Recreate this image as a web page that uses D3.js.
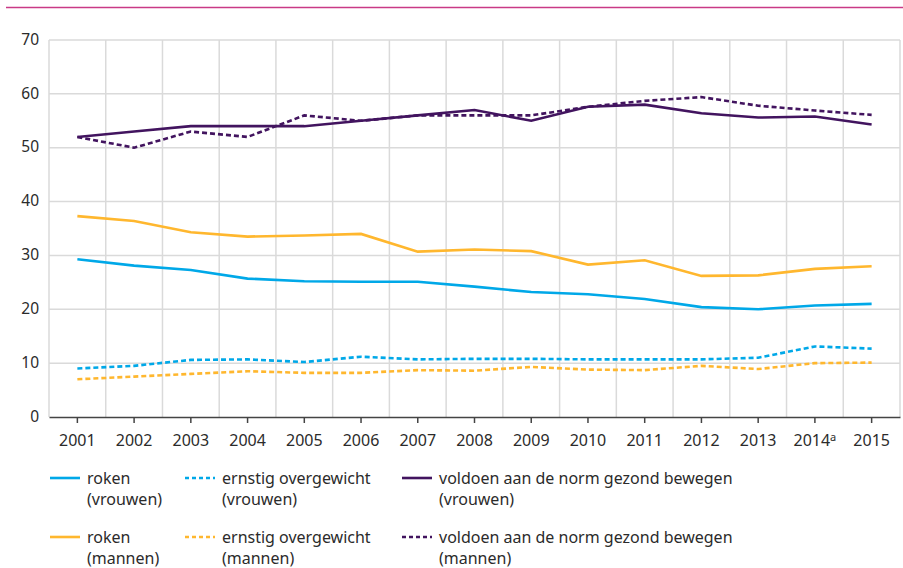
<!DOCTYPE html>
<html>
<head>
<meta charset="utf-8">
<script src="https://cdn.jsdelivr.net/npm/d3@7"></script>
<style>
  body { margin: 0; background: #fff; }
  svg { display: block; font-family: "Noto Sans", "Open Sans", sans-serif; }
</style>
</head>
<body>
<svg id="chart" width="903" height="568"></svg>
<script>
const years = ['2001', '2002', '2003', '2004', '2005', '2006', '2007', '2008',
  '2009', '2010', '2011', '2012', '2013', '2014', '2015'];
const yTicks = [0, 10, 20, 30, 40, 50, 60, 70];

const rokenVrouwen = [29.3, 28.1, 27.3, 25.7, 25.2, 25.1, 25.1, 24.2, 23.2, 22.8, 21.9, 20.4, 20.0, 20.7, 21.0];
const rokenMannen = [37.3, 36.4, 34.3, 33.5, 33.7, 34.0, 30.7, 31.1, 30.8, 28.3, 29.1, 26.2, 26.3, 27.5, 28.0];
const overgewichtVrouwen = [9.0, 9.5, 10.6, 10.7, 10.2, 11.2, 10.7, 10.8, 10.8, 10.7, 10.7, 10.7, 11.0, 13.1, 12.7];
const overgewichtMannen = [7.0, 7.5, 8.0, 8.5, 8.2, 8.2, 8.7, 8.6, 9.3, 8.8, 8.7, 9.5, 8.9, 10.0, 10.1];
const bewegenVrouwen = [52, 53, 54, 54, 54, 55, 56, 57, 55, 57.6, 58.0, 56.4, 55.6, 55.8, 54.3];
const bewegenMannen = [52, 50, 53, 52, 56, 55, 56, 56, 56, 57.6, 58.7, 59.4, 57.8, 56.9, 56.1];

const blue = '#00a8e8', yellow = '#ffb72e', purple = '#42145f';

const series = [
  { name: 'roken', sub: '(vrouwen)', values: rokenVrouwen, color: blue, dashed: false, col: 0, row: 0 },
  { name: 'ernstig overgewicht', sub: '(vrouwen)', values: overgewichtVrouwen, color: blue, dashed: true, col: 1, row: 0 },
  { name: 'voldoen aan de norm gezond bewegen', sub: '(vrouwen)', values: bewegenVrouwen, color: purple, dashed: false, col: 2, row: 0 },
  { name: 'roken', sub: '(mannen)', values: rokenMannen, color: yellow, dashed: false, col: 0, row: 1 },
  { name: 'ernstig overgewicht', sub: '(mannen)', values: overgewichtMannen, color: yellow, dashed: true, col: 1, row: 1 },
  { name: 'voldoen aan de norm gezond bewegen', sub: '(mannen)', values: bewegenMannen, color: purple, dashed: true, col: 2, row: 1 }
];

const svg = d3.select('#chart');
const margin = { top: 40, left: 49, right: 3, bottom: 151 };
const width = 903 - margin.left - margin.right;
const height = 568 - margin.top - margin.bottom;

// pink rule at the top
svg.append('line')
  .attr('x1', 6).attr('x2', 903).attr('y1', 7.5).attr('y2', 7.5)
  .attr('stroke', '#c93a86').attr('stroke-width', 1.6);

const g = svg.append('g').attr('transform', `translate(${margin.left},${margin.top})`);

const x = d3.scaleBand().domain(years).range([0, width]);
const y = d3.scaleLinear().domain([0, 70]).range([height, 0]);

// grid
g.append('g').selectAll('line')
  .data(yTicks.slice(1))
  .enter().append('line')
  .attr('x1', 0).attr('x2', width)
  .attr('y1', d => y(d)).attr('y2', d => y(d))
  .attr('stroke', '#dadada').attr('stroke-width', 1.5);

const bounds = years.map(d => x(d)).concat([width]);
g.append('g').selectAll('line')
  .data(bounds)
  .enter().append('line')
  .attr('x1', d => d).attr('x2', d => d)
  .attr('y1', 0).attr('y2', height)
  .attr('stroke', '#dadada').attr('stroke-width', 1.5);

// y labels
g.append('g').selectAll('text')
  .data(yTicks)
  .enter().append('text')
  .attr('x', -10).attr('y', d => y(d))
  .attr('dy', '0.3em')
  .attr('text-anchor', 'end')
  .attr('fill', '#2b2b2b')
  .style('font-size', '15.5px')
  .text(d => d);

// x axis
const xAxis = g.append('g').attr('transform', `translate(0,${height})`)
  .call(d3.axisBottom(x).tickSize(6).tickSizeOuter(0).tickFormat(''));
xAxis.select('.domain').attr('stroke', '#444').attr('stroke-width', 1.5);
xAxis.selectAll('.tick line').attr('stroke', '#444').attr('stroke-width', 1.5);

const xLabels = g.append('g').selectAll('text')
  .data(years)
  .enter().append('text')
  .attr('x', d => x(d) + x.bandwidth() / 2)
  .attr('y', height + 29)
  .attr('text-anchor', 'middle')
  .attr('fill', '#2b2b2b')
  .style('font-size', '16px');
xLabels.append('tspan').text(d => d);
xLabels.filter(d => d === '2014').append('tspan')
  .attr('dy', '-0.45em').style('font-size', '11px').text('a');

// lines
const line = d3.line()
  .x((d, i) => x(years[i]) + x.bandwidth() / 2)
  .y(d => y(d));

const order = [0, 3, 1, 4, 5, 2];
g.append('g').selectAll('path')
  .data(order.map(i => series[i]))
  .enter().append('path')
  .attr('d', d => line(d.values))
  .attr('fill', 'none')
  .attr('stroke', d => d.color)
  .attr('stroke-width', 2.6)
  .attr('stroke-dasharray', d => d.dashed ? '5,3' : null);

// legend
const colX = [50, 185, 402];
const rowY = [478, 537];
const leg = svg.append('g').selectAll('g')
  .data(series)
  .enter().append('g')
  .attr('transform', d => `translate(${colX[d.col]},${rowY[d.row]})`);

leg.append('line')
  .attr('x1', 0).attr('x2', 30).attr('y1', 0).attr('y2', 0)
  .attr('stroke', d => d.color)
  .attr('stroke-width', 2.6)
  .attr('stroke-dasharray', d => d.dashed ? '4,3' : null);

leg.append('text')
  .attr('x', 37).attr('y', 5.5)
  .attr('fill', '#2b2b2b')
  .style('font-size', '16px')
  .text(d => d.name);

leg.append('text')
  .attr('x', 37).attr('y', 27)
  .attr('fill', '#2b2b2b')
  .style('font-size', '16px')
  .text(d => d.sub);
</script>
</body>
</html>
